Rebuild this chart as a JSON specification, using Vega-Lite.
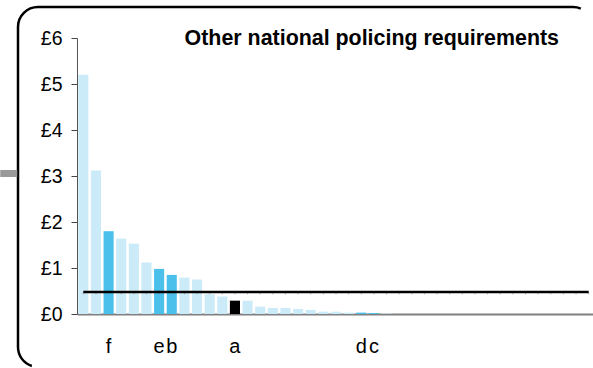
{
  "$schema": "https://vega.github.io/schema/vega-lite/v6.json",
  "width": 575,
  "height": 360,
  "autosize": {"type": "none"},
  "padding": {"left": 18, "top": 7, "right": 0, "bottom": 1},
  "config": {
    "view": {"stroke": "#000000", "strokeWidth": 2.5, "cornerRadius": 20, "strokeDash": [543, 915.84, 376.84]},
    "font": "Liberation Sans"
  },
  "title": {
    "text": "Other national policing requirements",
    "fontSize": 21.4,
    "fontWeight": "bold",
    "font": "Liberation Sans",
    "color": "#000000",
    "anchor": "end",
    "frame": "group",
    "offset": 0,
    "baseline": "alphabetic",
    "dy": 59,
    "dx": -34
  },
  "data": {
    "values": [
      {"id": "n00", "value": 5.20, "group": "other"},
      {"id": "n01", "value": 3.12, "group": "other"},
      {"id": "f", "value": 1.80, "group": "focus"},
      {"id": "n03", "value": 1.64, "group": "other"},
      {"id": "n04", "value": 1.53, "group": "other"},
      {"id": "n05", "value": 1.12, "group": "other"},
      {"id": "e", "value": 0.98, "group": "focus"},
      {"id": "b", "value": 0.85, "group": "focus"},
      {"id": "n08", "value": 0.79, "group": "other"},
      {"id": "n09", "value": 0.75, "group": "other"},
      {"id": "n10", "value": 0.43, "group": "other"},
      {"id": "n11", "value": 0.38, "group": "other"},
      {"id": "a", "value": 0.29, "group": "this"},
      {"id": "n13", "value": 0.29, "group": "other"},
      {"id": "n14", "value": 0.16, "group": "other"},
      {"id": "n15", "value": 0.13, "group": "other"},
      {"id": "n16", "value": 0.13, "group": "other"},
      {"id": "n17", "value": 0.11, "group": "other"},
      {"id": "n18", "value": 0.09, "group": "other"},
      {"id": "n19", "value": 0.05, "group": "other"},
      {"id": "n20", "value": 0.05, "group": "other"},
      {"id": "n21", "value": 0.03, "group": "other"},
      {"id": "d", "value": 0.03, "group": "focus"},
      {"id": "c", "value": 0.02, "group": "focus"},
      {"id": "n24", "value": 0.01, "group": "other"},
      {"id": "n25", "value": 0, "group": "other"},
      {"id": "n26", "value": 0, "group": "other"},
      {"id": "n27", "value": 0, "group": "other"},
      {"id": "n28", "value": 0, "group": "other"},
      {"id": "n29", "value": 0, "group": "other"},
      {"id": "n30", "value": 0, "group": "other"},
      {"id": "n31", "value": 0, "group": "other"},
      {"id": "n32", "value": 0, "group": "other"},
      {"id": "n33", "value": 0, "group": "other"},
      {"id": "n34", "value": 0, "group": "other"},
      {"id": "n35", "value": 0, "group": "other"},
      {"id": "n36", "value": 0, "group": "other"},
      {"id": "n37", "value": 0, "group": "other"},
      {"id": "n38", "value": 0, "group": "other"},
      {"id": "n39", "value": 0, "group": "other"},
      {"id": "n40", "value": 0, "group": "other"}
    ]
  },
  "layer": [
    {
      "mark": {"type": "bar"},
      "encoding": {
        "x": {
          "field": "id",
          "type": "nominal",
          "sort": null,
          "scale": {"range": [59, 577], "paddingInner": 0.2, "paddingOuter": 0.1},
          "axis": {
            "orient": "bottom",
            "offset": -53,
            "title": null,
            "ticks": false,
            "tickSize": 0,
            "domainColor": "#808080",
            "domainWidth": 2,
            "labelAngle": 0,
            "labelFontSize": 20,
            "labelColor": "#000000",
            "labelBaseline": "alphabetic",
            "labelPadding": 38,
            "labelExpr": "length(datum.label) == 1 ? datum.label : ''"
          }
        },
        "y": {
          "field": "value",
          "type": "quantitative",
          "scale": {"domain": [0, 6], "range": [307, 31], "nice": false},
          "axis": {
            "orient": "left",
            "offset": -59,
            "title": null,
            "grid": false,
            "values": [0, 1, 2, 3, 4, 5, 6],
            "tickSize": 6,
            "tickColor": "#444444",
            "domainColor": "#555555",
            "labelFontSize": 19.5,
            "labelColor": "#000000",
            "labelPadding": 9,
            "labelExpr": "'£' + datum.value"
          }
        },
        "color": {
          "field": "group",
          "type": "nominal",
          "scale": {"domain": ["other", "focus", "this"], "range": ["#CCEBF8", "#4BC0EB", "#000000"]},
          "legend": null
        }
      }
    },
    {
      "mark": {"type": "rule", "color": "#888888", "strokeWidth": 1, "opacity": 0.7},
      "encoding": {
        "x": {"field": "id", "type": "nominal", "sort": null},
        "y": {
          "datum": 0.47,
          "type": "quantitative",
          "scale": {"domain": [0, 6], "range": [307, 31], "nice": false},
          "axis": null
        },
        "y2": {"datum": 0.43}
      }
    },
    {
      "mark": {"type": "line", "color": "#000000", "strokeWidth": 2.5},
      "encoding": {
        "x": {"field": "id", "type": "nominal", "sort": null},
        "y": {
          "datum": 0.48,
          "type": "quantitative",
          "scale": {"domain": [0, 6], "range": [307, 31], "nice": false},
          "axis": {
            "orient": "left",
            "offset": 1.25,
            "title": null,
            "grid": false,
            "domain": false,
            "labels": false,
            "values": [3.07],
            "tickSize": 17,
            "tickWidth": 7,
            "tickColor": "#999999"
          }
        }
      }
    }
  ],
  "resolve": {"scale": {"y": "independent"}}
}
